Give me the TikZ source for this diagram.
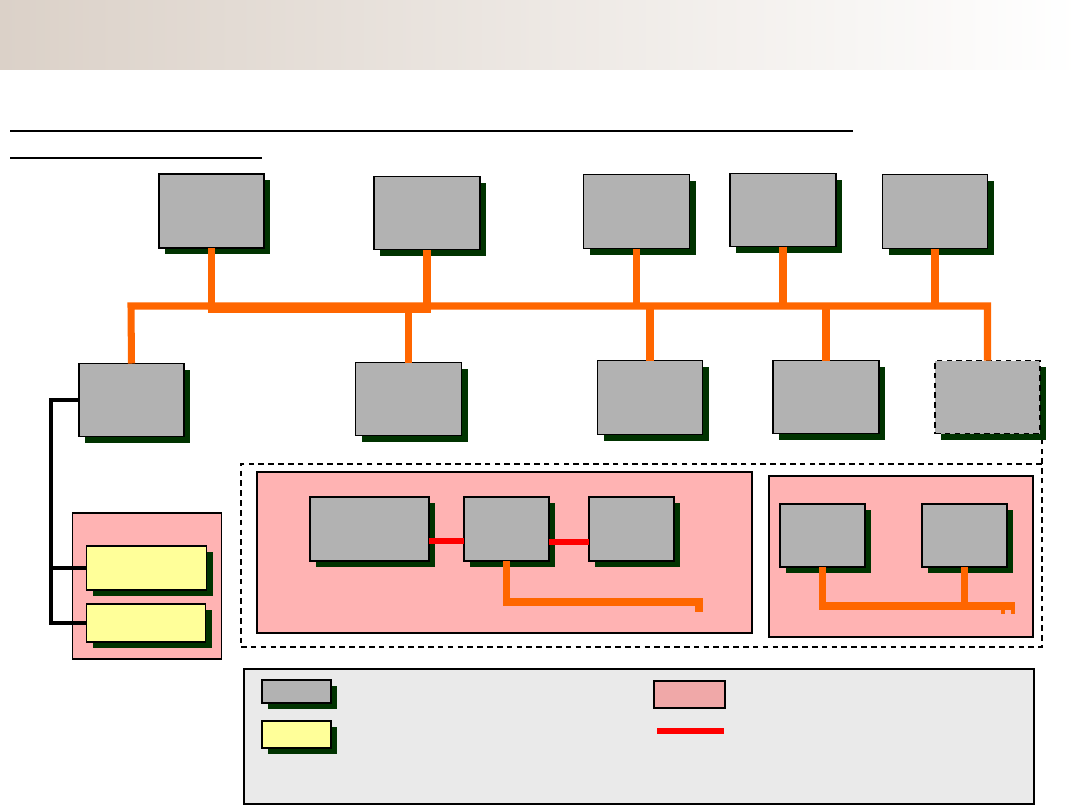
\documentclass[tikz,border=0pt]{standalone}
\usepackage{tikz}
\usetikzlibrary{shadows,calc}
\definecolor{unitgray}{HTML}{B2B2B2}
\definecolor{shadegreen}{HTML}{003300}
\definecolor{zonepink}{HTML}{FFB3B3}
\definecolor{keypink}{HTML}{F0A8A8}
\definecolor{cardyellow}{HTML}{FFFF99}
\definecolor{busorange}{HTML}{FF6600}
\definecolor{legendgray}{HTML}{EAEAEA}
\definecolor{bandleft}{HTML}{DBD1C8}
\definecolor{bandmid}{HTML}{EBE7E1}

\tikzset{
  sz/.style 2 args={minimum width=#1*0.025cm, minimum height=#2*0.025cm},
  plate/.style={draw=black, line width=0.8pt, inner sep=0pt, outer sep=0pt},
  unit/.style={
    plate,
    fill=unitgray,
    drop shadow={shadow xshift=0.15cm, shadow yshift=-0.15cm, fill=shadegreen, opacity=1}
  },
  card/.style={unit, fill=cardyellow},
  zone/.style={plate, fill=zonepink},
  fence/.style={dash pattern=on 4pt off 3pt, line width=1pt},
  bus/.style={draw=busorange, line width=5pt},
  link/.style={draw=red, line width=4.5pt},
  wire/.style={draw=black, line width=2.4pt}
}

\begin{document}
\begin{tikzpicture}[x=0.025cm, y=-0.025cm]
  \useasboundingbox (0,0) rectangle (1080,810);
  \shade[left color=bandleft, middle color=bandmid, right color=white] (0,0) rectangle (1080,69);
  \draw[line width=1.5pt] (10,131) -- (853,131);
  \draw[line width=1pt] (10,158) -- (262,158);

  % upper row
  \node[unit, sz={105}{74}] (t1) at (211.5,211) {};
  \node[unit, sz={106}{73}] (t2) at (427,213) {};
  \node[unit, sz={106}{74}] (t3) at (636.5,211.5) {};
  \node[unit, sz={106}{73}] (t4) at (783,210) {};
  \node[unit, sz={105}{74}] (t5) at (935,211.5) {};

  % lower row
  \node[unit, sz={105}{73}] (b1) at (131.5,400) {};
  \node[unit, sz={106}{73}] (b2) at (408.5,399) {};
  \node[unit, sz={105}{74}] (b3) at (650,397.5) {};
  \node[unit, sz={106}{73}] (b4) at (826,397) {};
  \node[unit, sz={105}{73}, fence] (b5) at (987.5,397) {};

  % cards
  \node[zone, sz={149}{146}] (rack) at (147,586) {};
  \draw[line width=1.6pt] (rack.north west) -- (rack.north east);
  \node[card, sz={120}{44}] (y1) at (146.5,568) {};
  \node[card, sz={119}{38}] (y2) at (146,623) {};

  % remote area
  \node[plate, fence, sz={801}{183}] (area) at (641.5,555.5) {};
  \node[zone, sz={495}{161}] (p1) at (504.5,552.5) {};
  \node[zone, sz={264}{161}] (p2) at (901,556.5) {};
  \node[unit, sz={119}{64}] (g1) at (369.5,529) {};
  \node[unit, sz={85}{64}] (g2) at (506.5,529) {};
  \node[unit, sz={85}{64}] (g3) at (631.5,529) {};
  \node[unit, sz={85}{63}] (h1) at (822.5,535.5) {};
  \node[unit, sz={85}{63}] (h2) at (964.5,535.5) {};

  % legend
  \node[plate, fill=legendgray, sz={790}{135}] (key) at (639,736.5) {};
  \node[unit, sz={69}{23}] (kunit) at (296.5,691.5) {};
  \node[card, sz={69}{27}] (kcard) at (296.5,734.5) {};
  \node[zone, fill=keypink, sz={71}{27}] (kzone) at (689.5,694.5) {};
  \coordinate (klinka) at (657,731);
  \coordinate (klinkb) at (724,731);
  \draw[link] (klinka) -- (klinkb);

  % bus
  \coordinate (tie) at (0,309);
  \coordinate (busl) at (131,306);
  \coordinate (busr) at (987.5,306);
  \draw[bus] (b1.north) -- (busl) -- (busr) -- (b5.north);
  \draw[bus] (t1.south) -- (t1.south |- tie) -| (t2.south);
  \draw[bus] (t3.south) -- (t3.south |- busl);
  \draw[bus] (t4.south) -- (t4.south |- busl);
  \draw[bus] (t5.south) -- (t5.south |- busl);
  \draw[bus] (b2.north) -- (b2.north |- busl);
  \draw[bus] (b3.north) -- (b3.north |- busl);
  \draw[bus] (b4.north) -- (b4.north |- busl);

  % local links
  \draw[wire] (b1.west) -- (51,400) |- (y2.west);
  \draw[wire] (y1.west -| 51,0) -- (y1.west);
  \coordinate (b5foot) at (area.north east |- 0,440);
  \draw[fence] (area.north east) -- (b5foot);
  \draw[link] ($(g1.east)+(0,12)$) -- ($(g2.west)+(0,12)$);
  \draw[link] ($(g2.east)+(0,13)$) -- ($(g3.west)+(0,13)$);
  \coordinate (ltap) at (699,602);
  \draw[bus] (g2.south) |- (ltap) -- ++(0,10);
  \coordinate (rtap) at (1015,606);
  \draw[bus] (h1.south) |- (rtap);
  \draw[bus] (h2.south) -- (h2.south |- rtap);
  \coordinate (stubl) at (1003,606);
  \coordinate (stubr) at (1013,606);
  \draw[bus, line width=3.5pt] (stubl) -- ++(0,8);
  \draw[bus, line width=3.5pt] (stubr) -- ++(0,8);
\end{tikzpicture}
\end{document}
